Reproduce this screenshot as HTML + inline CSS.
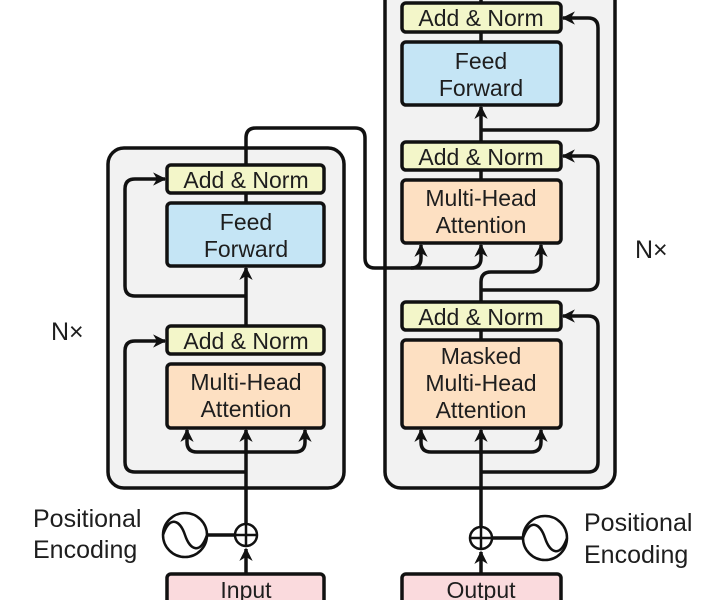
<!DOCTYPE html>
<html><head><meta charset="utf-8"><style>
html,body{margin:0;padding:0;background:#fff;}
svg{display:block;}
text{font-family:"Liberation Sans",sans-serif;fill:#1e1e1e;}
</style></head><body>
<svg width="727" height="600" viewBox="0 0 727 600" xmlns="http://www.w3.org/2000/svg">
<defs>
<marker id="a" viewBox="0 0 10 10" refX="9" refY="5" markerWidth="3.8" markerHeight="3.8" orient="auto-start-reverse" markerUnits="strokeWidth">
<path d="M0,0 L10,5 L0,10 L3,5 z" fill="#111"/>
</marker>
</defs>
<rect x="108" y="148" width="236" height="340" rx="16" fill="#f2f2f2" stroke="#111" stroke-width="3.5"/>
<rect x="385" y="-20" width="230" height="508" rx="16" fill="#f2f2f2" stroke="#111" stroke-width="3.5"/>

<g fill="none" stroke="#111" stroke-width="3.5" stroke-linejoin="round">
<path d="M246 574 L246 549" marker-end="url(#a)"/>
<path d="M246 524 L246 430" marker-end="url(#a)"/>
<path d="M246 354 L246 268" marker-end="url(#a)"/>
<path d="M246 193 L246 203"/>
<path d="M246 165 L246 138 Q246 128 256 128 L355 128 Q365 128 365 138 L365 258 Q365 268 375 268 L411 268 Q421 268 421 258 L421 245" marker-end="url(#a)"/>
<path d="M411 268 L471 268 Q481 268 481 258 L481 245" marker-end="url(#a)"/>
<path d="M246 296 L135 296 Q125 296 125 286 L125 189 Q125 179 135 179 L165 179" marker-end="url(#a)"/>
<path d="M246 472 L135 472 Q125 472 125 462 L125 351 Q125 341 135 341 L165 341" marker-end="url(#a)"/>
<path d="M246 452 L197 452 Q187 452 187 442 L187 430" marker-end="url(#a)"/>
<path d="M246 452 L295 452 Q305 452 305 442 L305 430" marker-end="url(#a)"/>

<path d="M481 574 L481 552" marker-end="url(#a)"/>
<path d="M481 527 L481 430" marker-end="url(#a)"/>
<path d="M481 330 L481 340"/>
<path d="M481 170 L481 180"/>
<path d="M481 142 L481 107" marker-end="url(#a)"/>
<path d="M481 32 L481 42"/>
<path d="M481 3 L481 -5"/>
<path d="M481 302 L481 282 Q481 272 491 272 L531 272 Q541 272 541 262 L541 245" marker-end="url(#a)"/>
<path d="M481 472 L588 472 Q598 472 598 462 L598 326 Q598 316 588 316 L563 316" marker-end="url(#a)"/>
<path d="M481 290 L588 290 Q598 290 598 280 L598 166 Q598 156 588 156 L563 156" marker-end="url(#a)"/>
<path d="M481 130 L588 130 Q598 130 598 120 L598 28 Q598 18 588 18 L563 18" marker-end="url(#a)"/>
<path d="M481 452 L431 452 Q421 452 421 442 L421 430" marker-end="url(#a)"/>
<path d="M481 452 L531 452 Q541 452 541 442 L541 430" marker-end="url(#a)"/>
<path d="M207 535 L235 535"/>
<path d="M492 538 L523 538"/>
</g>

<g stroke="#111" stroke-width="3.5">
<rect x="167" y="165" width="157" height="28" rx="4" fill="#f3f6c9"/>
<rect x="167" y="203" width="157" height="63" rx="4" fill="#c5e5f5"/>
<rect x="167" y="326" width="157" height="28" rx="4" fill="#f3f6c9"/>
<rect x="167" y="364" width="157" height="64" rx="4" fill="#fde0c2"/>
<rect x="402" y="3" width="159" height="29" rx="4" fill="#f3f6c9"/>
<rect x="402" y="42" width="159" height="63" rx="4" fill="#c5e5f5"/>
<rect x="402" y="142" width="159" height="28" rx="4" fill="#f3f6c9"/>
<rect x="402" y="180" width="159" height="63" rx="4" fill="#fde0c2"/>
<rect x="402" y="302" width="159" height="28" rx="4" fill="#f3f6c9"/>
<rect x="402" y="340" width="159" height="88" rx="4" fill="#fde0c2"/>
<rect x="167" y="574" width="157" height="40" rx="4" fill="#fadadd"/>
<rect x="402" y="574" width="159" height="40" rx="4" fill="#fadadd"/>
</g>

<g fill="#fff" stroke="#111" stroke-width="2.5">
<circle cx="246" cy="535" r="11"/>
<circle cx="481" cy="538" r="11"/>
<circle cx="185" cy="535" r="22"/>
<circle cx="545" cy="538" r="22"/>
</g>
<g fill="none" stroke="#111" stroke-width="2.5">
<path d="M246 524 V546 M235 535 H257"/>
<path d="M481 527 V549 M470 538 H492"/>
<path d="M163 535 C170 515,180 520,185 535 C190 550,200 555,207 535"/>
<path d="M523 538 C530 518,540 523,545 538 C550 553,560 558,567 538"/>
</g>

<g font-size="23" text-anchor="middle">
<text x="246" y="188">Add &amp; Norm</text>
<text x="246" y="230">Feed</text>
<text x="246" y="257">Forward</text>
<text x="246" y="349">Add &amp; Norm</text>
<text x="246" y="390">Multi-Head</text>
<text x="246" y="417">Attention</text>
<text x="481" y="26">Add &amp; Norm</text>
<text x="481" y="69">Feed</text>
<text x="481" y="96">Forward</text>
<text x="481" y="165">Add &amp; Norm</text>
<text x="481" y="206">Multi-Head</text>
<text x="481" y="233">Attention</text>
<text x="481" y="325">Add &amp; Norm</text>
<text x="481" y="364">Masked</text>
<text x="481" y="391">Multi-Head</text>
<text x="481" y="418">Attention</text>
<text x="246" y="598">Input</text>
<text x="481" y="598">Output</text>
</g>
<g font-size="25">
<text x="33" y="527">Positional</text>
<text x="33" y="558">Encoding</text>
<text x="584" y="531">Positional</text>
<text x="584" y="563">Encoding</text>
<text x="51" y="340">N×</text>
<text x="635" y="258">N×</text>
</g>
</svg>
</body></html>
